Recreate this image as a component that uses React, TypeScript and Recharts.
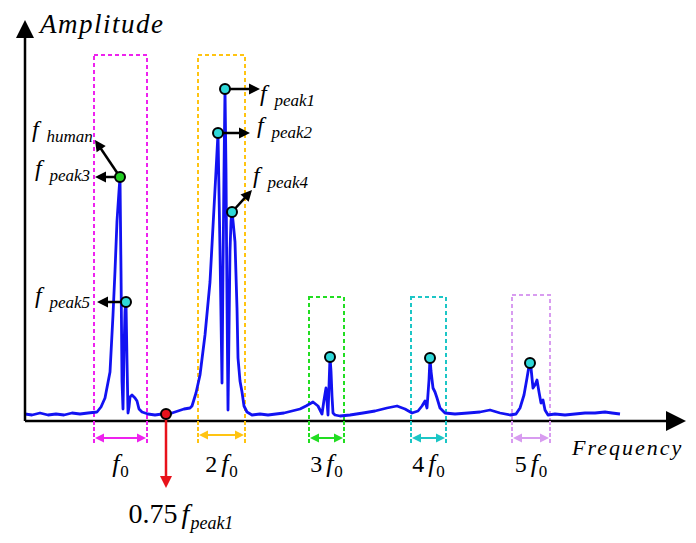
import { LineChart, Line, XAxis, YAxis, ReferenceArea, ReferenceLine, ReferenceDot } from "recharts";

// spectrum (frequency units are arbitrary, amplitude arbitrary)
const FREQ = [
  0, 7, 15, 23, 31, 39, 47, 55, 63, 72, 76, 80, 85, 88, 90, 92, 94, 95, 96, 97,
  98, 99, 100, 101, 102, 103, 104, 105, 107, 110, 112, 114, 117, 123, 130, 137, 141, 147, 153, 159,
  165, 167, 171, 175, 180, 185, 189, 191, 193, 195, 197, 198, 199, 200, 201, 202, 203, 204, 205, 206,
  207, 208, 210, 212, 213, 215, 217, 219, 222, 227, 235, 243, 251, 259, 267, 275, 281, 288, 293, 297,
  299, 301, 303, 305, 306, 307, 308, 310, 315, 325, 338, 350, 362, 372, 380, 387, 393, 397, 400, 402,
  404, 405, 406, 408, 410, 412, 415, 420, 430, 443, 455, 465, 475, 485, 491, 495, 499, 502, 504, 505,
  506, 508, 510, 512, 514, 516, 518, 520, 523, 530, 540, 550, 560, 570, 580, 587, 595,
];
const AMP = [
  7, 6, 8, 6, 7, 6, 8, 7, 8, 9, 14, 23, 49, 106, 150, 200, 230, 244, 150, 40,
  12, 70, 110, 119, 60, 8, 14, 24, 26, 23, 20, 12, 9, 7, 6, 7, 7, 8, 10, 12,
  13, 15, 28, 46, 86, 139, 213, 250, 288, 170, 38, 150, 250, 332, 250, 120, 11, 90, 170, 200,
  209, 200, 179, 113, 63, 40, 29, 15, 9, 6, 7, 6, 7, 8, 10, 12, 15, 19, 15, 7,
  21, 33, 6, 64, 50, 25, 8, 6, 5, 6, 8, 10, 13, 15, 12, 8, 10, 15, 20, 13,
  41, 63, 50, 33, 29, 23, 13, 8, 7, 8, 9, 11, 8, 6, 7, 13, 26, 43, 55, 58,
  53, 33, 36, 41, 29, 18, 21, 11, 6, 7, 6, 7, 8, 8, 9, 8, 7,
];

// harmonic windows f0 .. 5f0
const HARMONIC_ORDER = ["", "2", "3", "4", "5"];
const HARMONIC_LO = [69, 173, 284, 386, 487];
const HARMONIC_HI = [122, 220, 319, 421, 525];
const HARMONIC_TOP = [366, 366, 124, 124, 126];
const HARMONIC_COLORS = ["#ee22ee", "#ffc412", "#22dd22", "#1cc6c6", "#d89cf0"];

// detected peaks
const PEAK_NAMES = ["peak1", "peak2", "peak4", "peak3", "peak5"];
const PEAK_FREQ = [200, 193, 207, 95, 101];
const PEAK_AMP = [332, 288, 209, 244, 119];

const HARMONIC_PEAK_FREQ = [305, 405, 505];
const HARMONIC_PEAK_AMP = [64, 63, 58];

const CUTOFF_FREQ = 141;
const CUTOFF_AMP = 7;

// annotation layout (data coordinates)
const PEAK_ARROW_TIP = [[235, 332], [225, 288], [227, 231], [70, 244], [72, 119]];
const PEAK_LABEL_AT = [[235, 320], [232, 288], [228, 238], [10, 245], [10, 118]];
const HUMAN_TIP = [70, 281];
const HUMAN_LABEL_AT = [7, 284];

const W = 696;
const H = 543;
const SERIF = "Liberation Serif";

const data = FREQ.map((f, i) => ({ f, a: AMP[i] }));

function arrowShape(color: string, width: number, head: number, both = false) {
  return (p: any) => {
    const { x1, y1, x2, y2 } = p;
    const ang = Math.atan2(y2 - y1, x2 - x1);
    const hw = head * 0.5;
    const tri = (x: number, y: number, a: number) => {
      const bx = x - head * Math.cos(a);
      const by = y - head * Math.sin(a);
      return `${x},${y} ${bx + hw * Math.sin(a)},${by - hw * Math.cos(a)} ${bx - hw * Math.sin(a)},${by + hw * Math.cos(a)}`;
    };
    const ex = x2 - (head - 1) * Math.cos(ang);
    const ey = y2 - (head - 1) * Math.sin(ang);
    const sx = both ? x1 + (head - 1) * Math.cos(ang) : x1;
    const sy = both ? y1 + (head - 1) * Math.sin(ang) : y1;
    return (
      <g>
        <line x1={sx} y1={sy} x2={ex} y2={ey} stroke={color} strokeWidth={width} />
        <polygon points={tri(x2, y2, ang)} fill={color} />
        {both && <polygon points={tri(x1, y1, ang + Math.PI)} fill={color} />}
      </g>
    );
  };
}

function fLabel(sub: string, size = 24, subSize = 17) {
  return (p: any) => (
    <text x={p.cx} y={p.cy} fontFamily={SERIF} fontStyle="italic" fontSize={size} fill="#000">
      f
      <tspan x={p.cx + size * 0.6} y={p.cy + 5} fontSize={subSize}>
        {sub}
      </tspan>
    </text>
  );
}

function harmonicLabel(order: string) {
  return (p: any) => (
    <text x={p.cx} y={p.cy} textAnchor="middle" fontFamily={SERIF} fontSize={24} fill="#000">
      {order}
      <tspan fontStyle="italic" fontSize={26} dx={order ? 4 : 0}>f</tspan>
      <tspan fontSize={17} dx={1} dy={5}>0</tspan>
    </text>
  );
}

const plainText = (txt: string, size: number, spacing: number) => (p: any) => (
  <text x={p.cx} y={p.cy} fontFamily={SERIF} fontStyle="italic" fontSize={size} letterSpacing={spacing} fill="#000">
    {txt}
  </text>
);

const cutoffLabel = (p: any) => (
  <text x={p.cx} y={p.cy} textAnchor="middle" fontFamily={SERIF} fontSize={28} fill="#000">
    0.75
    <tspan fontStyle="italic" fontSize={28} dx={4}>f</tspan>
    <tspan fontStyle="italic" fontSize={18} dx={1} dy={6}>peak1</tspan>
  </text>
);

export default function App() {
  return (
    <div style={{ position: "absolute", left: 0, top: 0, width: W, height: H, background: "#fff" }}>
      <LineChart width={W} height={H} data={data} margin={{ top: 0, right: 0, bottom: 0, left: 0 }}>
        <XAxis type="number" dataKey="f" domain={[-25, 671]} hide allowDataOverflow />
        <YAxis type="number" domain={[-122, 421]} hide allowDataOverflow />

        {HARMONIC_LO.map((lo, i) => (
          <ReferenceArea
            key={`box${i}`}
            x1={lo}
            x2={HARMONIC_HI[i]}
            y1={0}
            y2={HARMONIC_TOP[i]}
            fill="none"
            fillOpacity={0}
            stroke={HARMONIC_COLORS[i]}
            strokeWidth={2}
            strokeDasharray="4 3"
          />
        ))}

        <Line
          type="linear"
          dataKey="a"
          stroke="#1212f2"
          strokeWidth={2.8}
          strokeLinejoin="round"
          dot={false}
          activeDot={false}
          isAnimationActive={false}
        />

        {/* axes */}
        <ReferenceLine segment={[{ x: 0, y: 0 }, { x: 0, y: 401 }]} shape={arrowShape("#000", 2.5, 18)} />
        <ReferenceLine segment={[{ x: 0, y: 0 }, { x: 661, y: 0 }]} shape={arrowShape("#000", 2.5, 20)} />

        {/* harmonic brackets */}
        {HARMONIC_LO.map((lo, i) => [
          <ReferenceLine key={`l${i}`} segment={[{ x: lo, y: 0 }, { x: lo, y: -24 }]} stroke={HARMONIC_COLORS[i]} strokeWidth={2} strokeDasharray="4 2" />,
          <ReferenceLine key={`r${i}`} segment={[{ x: HARMONIC_HI[i], y: 0 }, { x: HARMONIC_HI[i], y: -24 }]} stroke={HARMONIC_COLORS[i]} strokeWidth={2} strokeDasharray="4 2" />,
          <ReferenceLine
            key={`d${i}`}
            segment={[{ x: lo + 1, y: i === 1 ? -14 : -17 }, { x: HARMONIC_HI[i] - 1, y: i === 1 ? -14 : -17 }]}
            shape={arrowShape(HARMONIC_COLORS[i], 2, 9, true)}
          />,
          <ReferenceDot
            key={`t${i}`}
            x={(lo + HARMONIC_HI[i]) / 2}
            y={-51}
            r={0}
            shape={harmonicLabel(HARMONIC_ORDER[i])}
          />,
        ])}

        {/* peak annotations */}
        {PEAK_FREQ.map((f, i) => (
          <ReferenceLine
            key={`pa${i}`}
            segment={[{ x: f, y: PEAK_AMP[i] }, { x: PEAK_ARROW_TIP[i][0], y: PEAK_ARROW_TIP[i][1] }]}
            shape={arrowShape("#000", 2.5, 11)}
          />
        ))}
        <ReferenceLine
          segment={[{ x: PEAK_FREQ[3], y: PEAK_AMP[3] }, { x: HUMAN_TIP[0], y: HUMAN_TIP[1] }]}
          shape={arrowShape("#000", 2.5, 11)}
        />
        <ReferenceLine
          segment={[{ x: CUTOFF_FREQ, y: CUTOFF_AMP }, { x: CUTOFF_FREQ, y: -67 }]}
          shape={arrowShape("#e8121b", 2.5, 12)}
        />

        {PEAK_FREQ.map((f, i) => (
          <ReferenceDot
            key={`pd${i}`}
            x={f}
            y={PEAK_AMP[i]}
            r={5}
            fill={PEAK_NAMES[i] === "peak3" ? "#22cc22" : "#2fd8d8"}
            stroke="#000"
            strokeWidth={2}
          />
        ))}
        {HARMONIC_PEAK_FREQ.map((f, i) => (
          <ReferenceDot key={`hd${i}`} x={f} y={HARMONIC_PEAK_AMP[i]} r={5} fill="#2fd8d8" stroke="#000" strokeWidth={2} />
        ))}
        <ReferenceDot x={CUTOFF_FREQ} y={CUTOFF_AMP} r={5} fill="#e8121b" stroke="#000" strokeWidth={2} />

        {PEAK_NAMES.map((name, i) => (
          <ReferenceDot key={`pl${i}`} x={PEAK_LABEL_AT[i][0]} y={PEAK_LABEL_AT[i][1]} r={0} shape={fLabel(name)} />
        ))}
        <ReferenceDot x={HUMAN_LABEL_AT[0]} y={HUMAN_LABEL_AT[1]} r={0} shape={fLabel("human")} />

        <ReferenceDot x={CUTOFF_FREQ + 15} y={-102} r={0} shape={cutoffLabel} />
        <ReferenceDot x={15} y={388} r={0} shape={plainText("Amplitude", 27, 1.5)} />
        <ReferenceDot x={547} y={-34} r={0} shape={plainText("Frequency", 22, 2)} />
      </LineChart>
    </div>
  );
}
